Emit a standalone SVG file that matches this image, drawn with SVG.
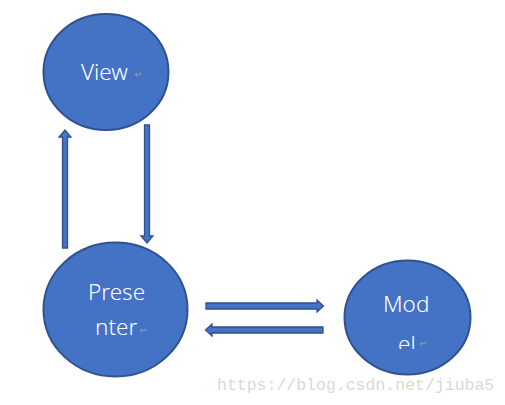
<svg xmlns="http://www.w3.org/2000/svg" width="505" height="405" viewBox="0 0 505 405">
<style>
.node{fill:#4472C4;stroke:#2F528F;stroke-width:2}
.arr{fill:#4472C4;stroke:#2F528F;stroke-width:1.3}
.lbl{fill:#fff;font-family:"Noto Sans","Open Sans",sans-serif;font-size:22.5px;font-weight:300}
.ret{fill:#999;font-family:"DejaVu Sans",sans-serif;font-size:10px}
.wm{fill:#ddd8d0;font-family:"Liberation Mono",monospace;font-size:16.5px}
</style>
<defs>
<clipPath id="clipModel"><rect x="340" y="250" width="140" height="99"/></clipPath>
</defs>
<rect width="505" height="405" fill="#fff"/>
<g id="connectors">
<polygon class="arr" points="62.5,248 62.5,137 59,137 65,130 71,137 67.5,137 67.5,248"/>
<polygon class="arr" points="144.5,125 149.5,125 149.5,236 153,236 147,243 141,236 144.5,236"/>
<polygon class="arr" points="206,303 317,303 317,300 323.5,306 317,312 317,309 206,309"/>
<polygon class="arr" points="323,327 212,327 212,324 205.5,330 212,336 212,333 323,333"/>
</g>
<g id="view">
<ellipse class="node" cx="106" cy="72" rx="62.5" ry="58"/>
<text class="lbl" x="81" y="80">View</text>
<text class="ret" x="134" y="78">↵</text>
</g>
<g id="presenter">
<ellipse class="node" cx="115.5" cy="309.5" rx="72" ry="67"/>
<text class="lbl" x="88" y="300">Prese</text>
<text class="lbl" x="95" y="335">nter</text>
<text class="ret" x="139" y="334">↵</text>
</g>
<g id="model">
<ellipse class="node" cx="407.5" cy="317.5" rx="63" ry="57"/>
<text class="lbl" x="383" y="312">Mod</text>
<text class="lbl" x="398" y="352" clip-path="url(#clipModel)">el</text>
<text class="ret" x="419" y="347">↵</text>
</g>
<text class="wm" x="217" y="390">https://blog.csdn.net/jiuba5</text>
</svg>
